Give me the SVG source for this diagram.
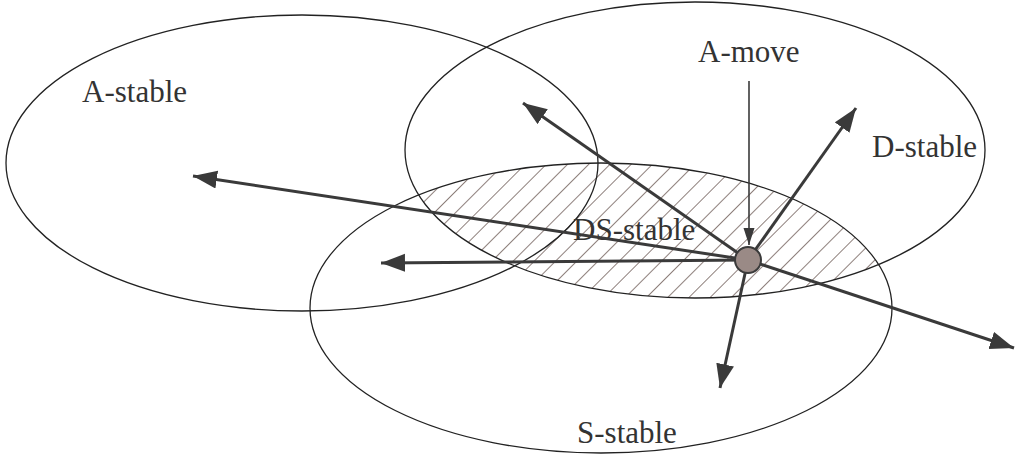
<svg xmlns="http://www.w3.org/2000/svg" width="1016" height="457" viewBox="0 0 1016 457">
<style>
.reg{fill:none;stroke:#222;stroke-width:1.3}
.lbl{font-family:'Liberation Serif','Times New Roman',serif;font-size:31px;fill:#333}
.arr{stroke:#3a3a3a;stroke-width:3;fill:none;marker-end:url(#ah)}
.arr2{stroke:#3a3a3a;stroke-width:1.6;fill:none;marker-end:url(#ah2)}
</style>
<defs>
<marker id="ah" markerUnits="userSpaceOnUse" markerWidth="26" markerHeight="20" refX="24" refY="9" orient="auto">
<path d="M0,0 L24,9 L0,18 Z" fill="#3a3a3a"/>
</marker>
<marker id="ah2" markerUnits="userSpaceOnUse" markerWidth="18" markerHeight="12" refX="17" refY="5.5" orient="auto">
<path d="M0,0 L17,5.5 L0,11 Z" fill="#3a3a3a"/>
</marker>
<pattern id="hatch" patternUnits="userSpaceOnUse" width="15" height="15" patternTransform="rotate(45)">
<line x1="7.5" y1="0" x2="7.5" y2="15" stroke="#8e807c" stroke-width="1"/>
</pattern>
<clipPath id="clipD"><ellipse cx="695" cy="150" rx="290" ry="148"/></clipPath>
</defs>
<g id="ds-hatch">
<ellipse cx="601" cy="308" rx="291" ry="145" fill="url(#hatch)" stroke="none" clip-path="url(#clipD)"/>
</g>
<g id="a-stable">
<ellipse class="reg" cx="302" cy="163" rx="296" ry="148"/>
<text class="lbl" font-family="Liberation Serif, serif" x="82" y="102">A-stable</text>
</g>
<g id="d-stable">
<ellipse class="reg" cx="695" cy="150" rx="290" ry="148"/>
<text class="lbl" font-family="Liberation Serif, serif" x="872" y="157">D-stable</text>
</g>
<g id="s-stable">
<ellipse class="reg" cx="601" cy="308" rx="291" ry="145"/>
<text class="lbl" font-family="Liberation Serif, serif" x="577" y="443">S-stable</text>
</g>
<g id="ds-label">
<text class="lbl" font-family="Liberation Serif, serif" x="573" y="240">DS-stable</text>
</g>
<g id="a-move">
<text class="lbl" font-family="Liberation Serif, serif" x="698" y="62">A-move</text>
</g>
<g id="connectors">
<line class="arr" x1="748" y1="260" x2="193" y2="176"/>
<line class="arr" x1="748" y1="260" x2="381" y2="263"/>
<line class="arr" x1="748" y1="260" x2="523" y2="103"/>
<line class="arr" x1="748" y1="260" x2="856" y2="108"/>
<line class="arr" x1="748" y1="260" x2="1014" y2="348"/>
<line class="arr" x1="748" y1="260" x2="720" y2="388"/>
<line class="arr2" x1="749" y1="81" x2="749" y2="245"/>
</g>
<g id="node">
<circle cx="748" cy="260" r="13" fill="#9a8a86" stroke="#3a3a3a" stroke-width="2"/>
</g>
</svg>
